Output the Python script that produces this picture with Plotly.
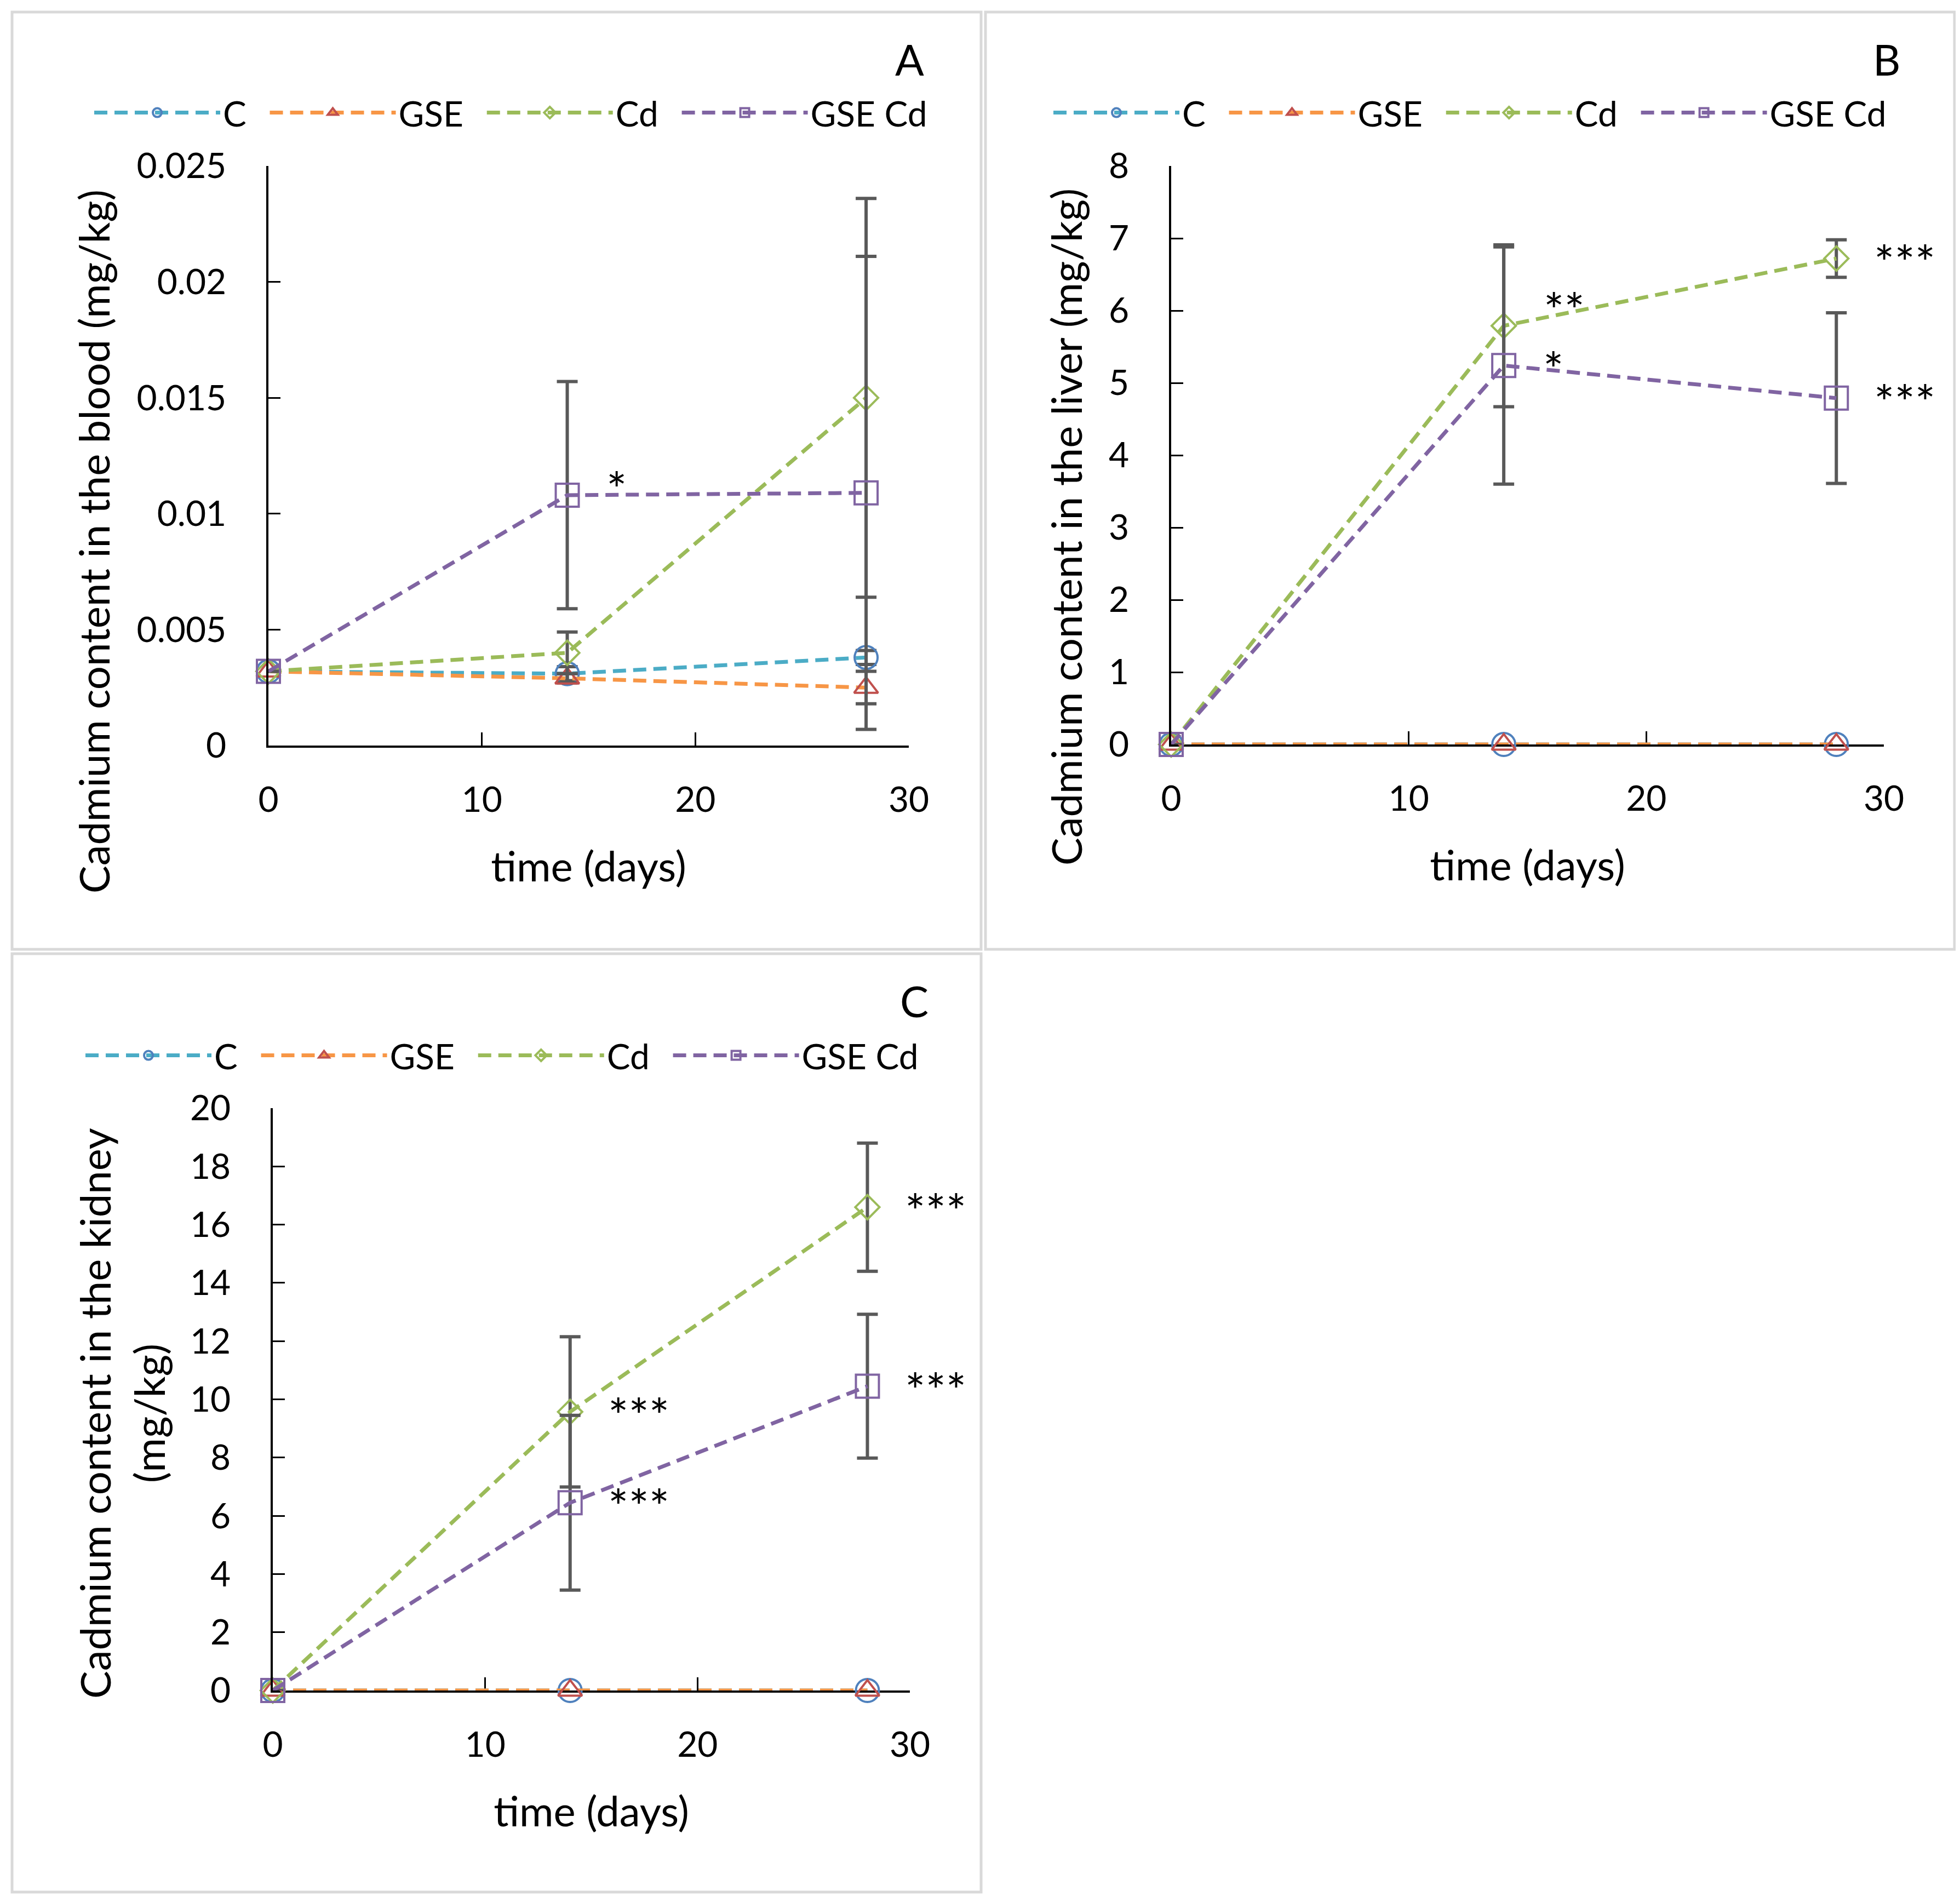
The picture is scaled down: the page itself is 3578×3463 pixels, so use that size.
import plotly.graph_objects as go

# ---- data -------------------------------------------------------------
days = [0, 14, 28]
series_names = ["C", "GSE", "Cd", "GSE Cd"]

blood_c = [0.0032, 0.0031, 0.0038]
blood_gse = [0.0032, 0.0029, 0.0025]
blood_cd = [0.0032, 0.0040, 0.0150]
blood_gse_cd = [0.0032, 0.0108, 0.0109]
blood_c_err = [0, 0.0003, 0.0003]
blood_gse_err = [0, 0.0002, 0.0007]
blood_cd_err = [0, 0.0009, 0.0086]
blood_gse_cd_err = [0, 0.0049, 0.0102]

liver_c = [0, 0, 0]
liver_gse = [0, 0, 0]
liver_cd = [0, 5.79, 6.72]
liver_gse_cd = [0, 5.24, 4.79]
liver_c_err = [0, 0, 0]
liver_gse_err = [0, 0, 0]
liver_cd_err = [0, 1.12, 0.26]
liver_gse_cd_err = [0, 1.64, 1.18]

kidney_c = [0, 0, 0]
kidney_gse = [0, 0, 0]
kidney_cd = [0, 9.57, 16.6]
kidney_gse_cd = [0, 6.45, 10.45]
kidney_c_err = [0, 0, 0]
kidney_gse_err = [0, 0, 0]
kidney_cd_err = [0, 2.58, 2.2]
kidney_gse_cd_err = [0, 3.0, 2.47]

blood_ticks = [0, 0.005, 0.01, 0.015, 0.02, 0.025]
blood_ticktext = ["0", "0.005", "0.01", "0.015", "0.02", "0.025"]
liver_ticks = [0, 1, 2, 3, 4, 5, 6, 7, 8]
kidney_ticks = [0, 2, 4, 6, 8, 10, 12, 14, 16, 18, 20]
day_ticks = [0, 10, 20, 30]

# significance marks: (series index, day index, label)
blood_sig = [(3, 1, "*")]
liver_sig = [(2, 1, "**"), (3, 1, "*"), (2, 2, "***"), (3, 2, "***")]
kidney_sig = [(2, 1, "***"), (3, 1, "***"), (2, 2, "***"), (3, 2, "***")]

# ---- style ------------------------------------------------------------
W, H = 3578, 3463
FONT = "Lato"
LINE_COLORS = ["#4BACC6", "#F79646", "#9BBB59", "#8064A2"]
MARKER_COLORS = ["#4F81BD", "#C0504D", "#9BBB59", "#8064A2"]
SYMBOLS = ["circle-open", "triangle-up-open", "diamond-open", "square-open"]
SIZES = [42, 38, 34, 42]
ERR_COLOR = "#595959"
STAR_SHIFT = {1: 90, 2: 110, 3: 125}
NBSP = "\u00a0"


def fx(p):
    return p / W


def fy(p):
    return 1 - p / H


panels = [
    dict(
        key="", legend="legend", values=[blood_c, blood_gse, blood_cd, blood_gse_cd],
        errors=[blood_c_err, blood_gse_err, blood_cd_err, blood_gse_cd_err],
        plot=(482, 1651, 295, 1353), box=(14, 1783, 14, 1725),
        yrange=[0, 0.025], ticks=blood_ticks, ticktext=blood_ticktext,
        ytitle="Cadmium content in the blood (mg/kg)", ytitle_pos=(162, 981),
        letter="A", letter_pos=(1652, 100), legend_pos=(159, 198), sig=blood_sig,
        lift={"*": 18},
    ),
    dict(
        key="2", legend="legend2", values=[liver_c, liver_gse, liver_cd, liver_gse_cd],
        errors=[liver_c_err, liver_gse_err, liver_cd_err, liver_gse_cd_err],
        plot=(2130, 3431, 295, 1351), box=(1791, 3560, 14, 1725),
        yrange=[0, 8], ticks=liver_ticks, ticktext=[str(t) for t in liver_ticks],
        ytitle="Cadmium content in the liver (mg/kg)", ytitle_pos=(1938, 954),
        letter="B", letter_pos=(3436, 100), legend_pos=(1910, 198), sig=liver_sig,
        lift={"**": 36},
    ),
    dict(
        key="3", legend="legend3", values=[kidney_c, kidney_gse, kidney_cd, kidney_gse_cd],
        errors=[kidney_c_err, kidney_gse_err, kidney_cd_err, kidney_gse_cd_err],
        plot=(490, 1653, 2015, 3078), box=(14, 1783, 1733, 3446),
        yrange=[0, 20], ticks=kidney_ticks, ticktext=[str(t) for t in kidney_ticks],
        ytitle="Cadmium content in the kidney<br>(mg/kg)", ytitle_pos=(214, 2572),
        letter="C", letter_pos=(1661, 1819), legend_pos=(143, 1919), sig=kidney_sig,
        lift={},
    ),
]

fig = go.Figure()
layout = dict(
    template="none",
    width=W,
    height=H,
    margin=dict(l=0, r=0, t=0, b=0),
    paper_bgcolor="white",
    plot_bgcolor="white",
    font=dict(family=FONT, size=64, color="black"),
    shapes=[],
    annotations=[],
)

for p in panels:
    xa, ya = "x" + p["key"], "y" + p["key"]
    for i, name in enumerate(series_names):
        err = p["errors"][i]
        # trailing non-breaking spaces reproduce the Excel legend spacing
        label = name + (NBSP * 2 if i < len(series_names) - 1 else "")
        fig.add_trace(
            go.Scatter(
                x=days,
                y=p["values"][i],
                name=label,
                mode="lines+markers",
                xaxis=xa,
                yaxis=ya,
                legend=p["legend"],
                cliponaxis=False,
                line=dict(color=LINE_COLORS[i], width=7, dash="24px,13px"),
                marker=dict(
                    symbol=SYMBOLS[i],
                    size=SIZES[i],
                    color=MARKER_COLORS[i],
                    line=dict(color=MARKER_COLORS[i], width=4),
                ),
                error_y=dict(
                    type="data", array=err, visible=any(e > 0 for e in err),
                    color=ERR_COLOR, thickness=6, width=19,
                ),
            )
        )

    x0, x1, y0, y1 = p["plot"]
    layout["xaxis" + p["key"]] = dict(
        domain=[fx(x0), fx(x1)], anchor=ya, range=[0, 30], tickvals=day_ticks,
        ticks="inside", ticklen=24, tickwidth=3, tickcolor="black",
        showline=True, linewidth=4, linecolor="black", showgrid=False, zeroline=False,
        layer="below traces", automargin=False,
        ticklabelstandoff=40, tickfont=dict(size=64),
        title=dict(text="time (days)", font=dict(size=76), standoff=62),
    )
    layout["yaxis" + p["key"]] = dict(
        domain=[fy(y1), fy(y0)], anchor=xa, range=p["yrange"], tickvals=p["ticks"],
        ticktext=p["ticktext"], ticks="inside", ticklen=22, tickwidth=3, tickcolor="black",
        showline=True, linewidth=4, linecolor="black", showgrid=False, zeroline=False,
        automargin=False, ticklabelstandoff=60, tickfont=dict(size=64),
    )
    lx, ly = p["legend_pos"]
    layout[p["legend"]] = dict(
        x=fx(lx), y=fy(ly), xanchor="left", yanchor="middle", orientation="h",
        font=dict(size=64), itemwidth=230, bgcolor="rgba(0,0,0,0)",
    )
    bx0, bx1, by0, by1 = p["box"]
    layout["shapes"].append(dict(
        type="rect", xref="paper", yref="paper", x0=fx(bx0), x1=fx(bx1),
        y0=fy(by1), y1=fy(by0), line=dict(color="#D9D9D9", width=5),
    ))
    tx, ty = p["ytitle_pos"]
    layout["annotations"].append(dict(
        xref="paper", yref="paper", x=fx(tx), y=fy(ty), text=p["ytitle"],
        textangle=-90, showarrow=False, font=dict(size=76),
        xanchor="center", yanchor="middle",
    ))
    px_, py_ = p["letter_pos"]
    layout["annotations"].append(dict(
        xref="paper", yref="paper", x=fx(px_), y=fy(py_), text=p["letter"],
        showarrow=False, font=dict(size=78), xanchor="center", yanchor="middle",
    ))
    for si, di, label in p["sig"]:
        layout["annotations"].append(dict(
            xref=xa, yref=ya, x=days[di], y=p["values"][si][di], text=label,
            showarrow=False, font=dict(size=88), xanchor="center", yanchor="middle",
            xshift=STAR_SHIFT[len(label)], yshift=-6 + p["lift"].get(label, 0),
        ))

fig.update_layout(**layout)
fig.write_html("out.html")
